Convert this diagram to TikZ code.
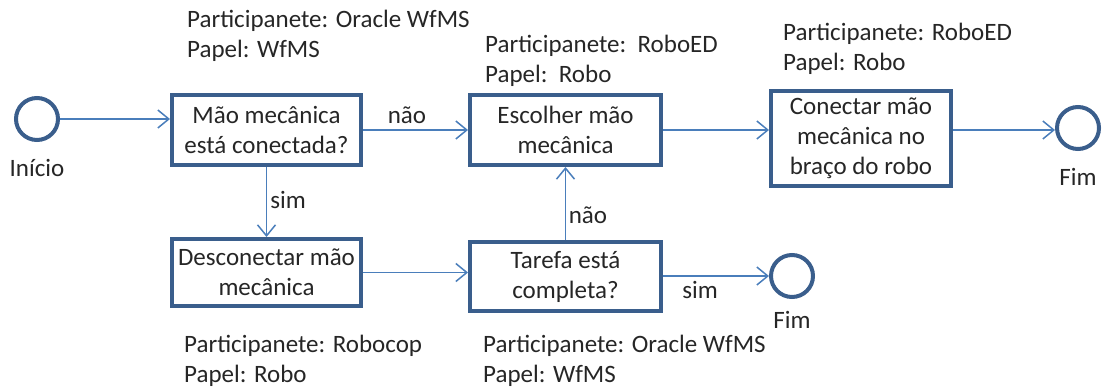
\documentclass[tikz,border=0pt]{standalone}
\usepackage{fontspec}
\setmainfont{Carlito}
\usetikzlibrary{arrows.meta}
\definecolor{boxline}{HTML}{3A5E8C}
\definecolor{flow}{HTML}{4A7EBB}
\definecolor{ink}{HTML}{262626}
\begin{document}
\begin{tikzpicture}[x=1pt,y=-1pt,
  every node/.style={text=ink,font=\fontsize{25}{30}\selectfont,inner sep=0pt},
  task/.style={draw=boxline,line width=4pt,fill=white,align=center},
  event/.style={circle,draw=boxline,line width=4pt,minimum size=42pt},
  flowline/.style={draw=flow,line width=1.5pt,-{Straight Barb[length=11pt,width=18pt,line width=1.5pt]}},
  info/.style={align=left,anchor=base west}
]
\useasboundingbox (0,0) rectangle (1105,388);

% events
\node[event] (inicio) at (37,119) {};
\node (tinicio) at (37,168) {Início};
\node[event] (fim1) at (1078,128) {};
\node (tfim1) at (1078,177) {Fim};
\node[event] (fim2) at (792,276) {};
\node (tfim2) at (792,320) {Fim};

% tasks
\node[task,minimum width=189pt,minimum height=70pt] (b1) at (266.5,130) {Mão mecânica\\está conectada?};
\node[task,minimum width=191pt,minimum height=70pt] (b2) at (565.5,130) {Escolher mão\\mecânica};
\node[task,minimum width=180pt,minimum height=95pt] (b3) at (861,138.5) {Conectar mão\\mecânica no\\braço do robo};
\node[task,minimum width=189pt,minimum height=67pt] (b4) at (266.5,272.5) {Desconectar mão\\mecânica};
\node[task,minimum width=191pt,minimum height=69pt] (b5) at (565.5,276.5) {Tarefa está\\completa?};

% participants and roles (anchored at the baseline of the second line)
\node[info] (p1) at (187,57) {Participanete: Oracle WfMS\\Papel: WfMS};
\node[info] (p2) at (485,82) {Participanete:\ \ RoboED\\Papel:\ \ Robo};
\node[info] (p3) at (783,70) {Participanete: RoboED\\Papel: Robo};
\node[info] (p4) at (184,382) {Participanete: Robocop\\Papel: Robo};
\node[info] (p5) at (483,382) {Participanete: Oracle WfMS\\Papel: WfMS};

% flow
\draw[flowline] (inicio.east) -- (b1.west |- inicio.east);
\draw[flowline] (b1.east) -- (b2.west);
\draw[flowline] (b2.east) -- (b2.east -| b3.west);
\draw[flowline] (b3.east |- b2.east) -- (fim1.west |- b2.east);
\draw[flowline] (b1.south) -- (b4.north);
\draw[flowline] (b4.east) -- (b4.east -| b5.west);
\draw[flowline] (b5.north) -- (b2.south);
\draw[flowline] (b5.east |- fim2.west) -- (fim2.west);

% guards
\node (g1) at (407,115) {não};
\node (g2) at (288,200) {sim};
\node (g3) at (588,215) {não};
\node (g4) at (700,290) {sim};
\end{tikzpicture}
\end{document}
